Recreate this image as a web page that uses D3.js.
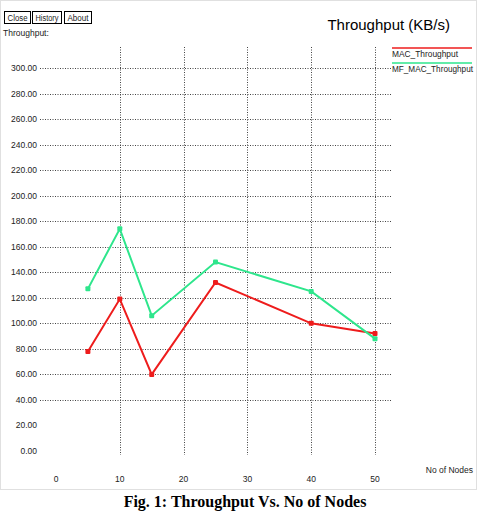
<!DOCTYPE html>
<html>
<head>
<meta charset="utf-8">
<script src="https://cdn.jsdelivr.net/npm/d3@7"></script>
<style>
body { margin: 0; background: #fff; }
svg { display: block; }
</style>
</head>
<body>
<svg width="489" height="515"></svg>
<script>
let nodes = [5, 10, 15, 25, 40, 50];
let macThroughput = [78, 119, 60, 132, 100, 92];
let mfMacThroughput = [127, 174, 106, 148, 125, 88];
let yTicks = [0, 20, 40, 60, 80, 100, 120, 140, 160, 180, 200, 220, 240, 260, 280, 300];
let xTicks = [0, 10, 20, 30, 40, 50];
let seriesNames = ["MAC_Throughput", "MF_MAC_Throughput"];
let seriesColors = ["#ee1c1c", "#2ee68c"];

let svg = d3.select("svg");
let font = "Liberation Sans, Arial, sans-serif";

// panel border
svg.append("rect").attr("x", 0.5).attr("y", 0.5).attr("width", 476).attr("height", 489)
  .attr("fill", "#fff").attr("stroke", "#e0e0e0");

let x = d3.scaleLinear().domain([0, 50]).range([56, 375]);
let y = d3.scaleLinear().domain([0, 300]).range([451, 68]);

// buttons
let buttons = [["Close", 4, 26], ["History", 32, 29], ["About", 64, 27]];
buttons.forEach(function(b){
  svg.append("rect").attr("x", b[1] + 0.5).attr("y", 11.5).attr("width", b[2]).attr("height", 12)
    .attr("fill", "#fff").attr("stroke", "#000");
  svg.append("text").attr("x", b[1] + b[2]/2 + 0.5).attr("y", 21).attr("text-anchor", "middle")
    .attr("textLength", b[2] - 6).attr("lengthAdjust", "spacingAndGlyphs")
    .style("font-family", font).style("font-size", "8.5px").style("fill", "#222").text(b[0]);
});
svg.append("text").attr("x", 3).attr("y", 36).style("font-family", font).style("font-size", "8.5px")
  .style("fill", "#222").text("Throughput:");

svg.append("text").attr("x", 450).attr("y", 30).attr("text-anchor", "end")
  .style("font-family", font).style("font-size", "15px").text("Throughput (KB/s)");

// grid
let g = svg.append("g");
g.selectAll(".hgrid").data(yTicks.filter(d => d >= 40)).enter().append("line")
  .attr("x1", 40).attr("x2", 392)
  .attr("y1", d => Math.round(y(d)) + 0.5).attr("y2", d => Math.round(y(d)) + 0.5)
  .attr("stroke", "#444").attr("stroke-width", 1).attr("stroke-dasharray", "1,1.5");
g.selectAll(".vgrid").data(xTicks.filter(d => d > 0)).enter().append("line")
  .attr("x1", d => Math.round(x(d)) + 0.5).attr("x2", d => Math.round(x(d)) + 0.5)
  .attr("y1", 47).attr("y2", 455)
  .attr("stroke", "#444").attr("stroke-width", 1).attr("stroke-dasharray", "1,1.5");

g.selectAll(".ylab").data(yTicks).enter().append("text")
  .attr("x", 37).attr("y", d => y(d) + 3).attr("text-anchor", "end")
  .style("font-family", font).style("font-size", "8.5px").style("fill", "#222").text(d => d.toFixed(2));
g.selectAll(".xlab").data(xTicks).enter().append("text")
  .attr("x", d => x(d)).attr("y", 482).attr("text-anchor", "middle")
  .style("font-family", font).style("font-size", "8.5px").style("fill", "#222").text(d => d);
svg.append("text").attr("x", 473).attr("y", 473).attr("text-anchor", "end")
  .style("font-family", font).style("font-size", "8.5px").style("fill", "#222").text("No of Nodes");

// series
let allSeries = [macThroughput, mfMacThroughput];
let line = d3.line().x((d, i) => x(nodes[i])).y(d => y(d));
allSeries.forEach(function(vals, s){
  svg.append("path").datum(vals).attr("d", line).attr("fill", "none")
    .attr("stroke", seriesColors[s]).attr("stroke-width", 2);
  svg.selectAll(".pt" + s).data(vals).enter().append("rect")
    .attr("x", (d, i) => x(nodes[i]) - 2.5).attr("y", d => y(d) - 2.5)
    .attr("width", 5).attr("height", 5).attr("rx", 1).attr("fill", seriesColors[s]);
});

// legend
seriesNames.forEach(function(n, i){
  svg.append("line").attr("x1", 392).attr("x2", 472).attr("y1", 48 + i*15).attr("y2", 48 + i*15)
    .attr("stroke", seriesColors[i]).attr("stroke-width", 1.5);
  svg.append("text").attr("x", 392).attr("y", 57 + i*15)
    .attr("textLength", i === 0 ? 66 : 81).attr("lengthAdjust", "spacingAndGlyphs")
    .style("font-family", font).style("font-size", "8.5px").style("fill", "#222").text(n);
});

// caption
svg.append("text").attr("x", 245).attr("y", 507).attr("text-anchor", "middle")
  .style("font-family", "Liberation Serif, Times New Roman, serif").style("font-size", "16px")
  .style("font-weight", "bold").text("Fig. 1: Throughput Vs. No of Nodes");
</script>
</body>
</html>
